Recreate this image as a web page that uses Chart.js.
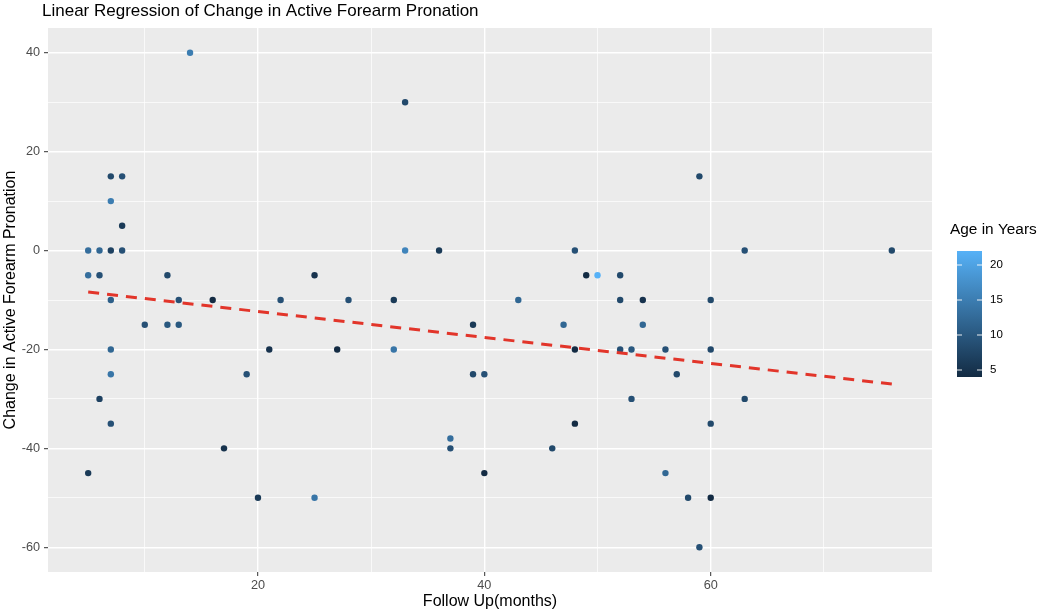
<!DOCTYPE html>
<html>
<head>
<meta charset="utf-8">
<script src="https://cdn.jsdelivr.net/npm/chart.js@4.4.1/dist/chart.umd.min.js"></script>
<style>
  html, body { margin: 0; padding: 0; background: #fff; }
  #wrap { width: 1040px; height: 613px; position: relative; }
</style>
</head>
<body>
<div id="wrap"><canvas id="regChart"></canvas></div>
<script>
// follow up (months), change in pronation (degrees), age (years)
const months = [14,7,8,7,8,5,6,7,8,5, 6,12,25,7,13,16,22,10,12,13, 7,21,27,7,19,6,7,17,5,20,
                25,33,33,36,48,49,50,52,28,32, 43,52,39,47,32,48,52,53,39,40, 53,37,37,46,48,40,59,63,76,54,
                60,54,56,60,57,63,60,56,58,60, 59];
const change = [40,15,15,10,5,0,0,0,0,-5, -5,-5,-5,-10,-10,-10,-10,-15,-15,-15, -20,-20,-20,-25,-25,-30,-35,-40,-45,-50,
                -50,30,0,0,0,-5,-5,-5,-10,-10, -10,-10,-15,-15,-20,-20,-20,-20,-25,-25, -30,-38,-40,-40,-35,-45,15,0,0,-10,
                -10,-15,-20,-20,-25,-30,-35,-45,-50,-50, -60];
const age = [15,8,9,15,6,13,12,7,9,13, 9,8,5,11,9,4,9,9,10,10, 12,5,4,14,9,7,9,5,6,6,
             14,8,16,6,9,4,22,8,9,6, 12,8,6,12,14,4,9,10,8,9, 9,13,9,8,4,4,8,9,8,5,
             8,12,9,8,8,8,8,12,8,4, 9];

// fitted line end points
const fitX = [5, 76];
const fitY = [-8.4, -27.0];

const xMajor = [20, 40, 60];
const xMinor = [10, 30, 50, 70];
const yMajor = [-60, -40, -20, 0, 20, 40];
const yMinor = [-50, -30, -10, 10, 30];
const ageTicks = [5, 10, 15, 20];

const ageMin = Math.min(...age);
const ageMax = Math.max(...age);
const lowCol = [19, 43, 67];    // #132B43
const highCol = [86, 177, 247]; // #56B1F7

function ageColor(a) {
    const t = (a - ageMin) / (ageMax - ageMin);
    const c = lowCol.map((v, i) => Math.round(v + (highCol[i] - v) * t));
    return "rgb(" + c.join(",") + ")";
}

const FONT = "'Liberation Sans', Arial, Helvetica, sans-serif";

// panel background, title and colour bar
const decor = {
    id: "decor",
    beforeDraw(chart) {
        const { ctx, chartArea: a } = chart;
        ctx.save();
        ctx.fillStyle = "#EBEBEB";
        ctx.fillRect(a.left, a.top, a.right - a.left, a.bottom - a.top);
        ctx.restore();
    },
    afterDraw(chart) {
        const ctx = chart.ctx;
        ctx.save();
        ctx.fillStyle = "#000";
        ctx.textBaseline = "middle";
        ctx.textAlign = "left";
        ctx.font = "17px " + FONT;
        ctx.fillText("Linear Regression of Change in Active Forearm Pronation", 42, 11.5);

        ctx.font = "15.4px " + FONT;
        ctx.fillText("Age in Years", 950, 230);

        const bx = 957, bw = 25, top = 251, bot = 377;
        const g = ctx.createLinearGradient(0, bot, 0, top);
        g.addColorStop(0, ageColor(ageMin));
        g.addColorStop(1, ageColor(ageMax));
        ctx.fillStyle = g;
        ctx.fillRect(bx, top, bw, bot - top);

        ctx.font = "11.5px " + FONT;
        ageTicks.forEach(v => {
            const y = bot - (v - ageMin) / (ageMax - ageMin) * (bot - top);
            ctx.strokeStyle = "rgba(255,255,255,0.9)";
            ctx.lineWidth = 1;
            ctx.beginPath();
            ctx.moveTo(bx, y); ctx.lineTo(bx + 5, y);
            ctx.moveTo(bx + bw - 5, y); ctx.lineTo(bx + bw, y);
            ctx.stroke();
            ctx.fillStyle = "#000";
            ctx.fillText(String(v), 990, y);
        });
        ctx.restore();
    }
};

const isMajor = (list, v) => list.includes(v);

new Chart(document.getElementById("regChart"), {
    data: {
        datasets: [{
            type: "scatter",
            data: months.map((m, i) => ({ x: m, y: change[i] })),
            backgroundColor: ctx => ageColor(age[ctx.dataIndex]),
            borderWidth: 0,
            pointRadius: 3.2,
            pointHoverRadius: 3.2,
            order: 2
        }, {
            type: "line",
            data: fitX.map((x, i) => ({ x: x, y: fitY[i] })),
            borderColor: "#E2352A",
            borderWidth: 3,
            borderDash: [11, 8],
            pointRadius: 0,
            fill: false,
            order: 1
        }]
    },
    options: {
        responsive: true,
        maintainAspectRatio: false,
        animation: false,
        layout: { padding: { left: 0, right: 108, top: 28, bottom: 0 } },
        plugins: {
            legend: { display: false },
            tooltip: { enabled: false },
            title: { display: false }
        },
        scales: {
            x: {
                type: "linear",
                min: 1.45,
                max: 79.55,
                afterBuildTicks: s => { s.ticks = xMinor.concat(xMajor).sort((a, b) => a - b).map(v => ({ value: v })); },
                afterFit: s => { s.height = 41; },
                border: { display: false },
                grid: {
                    color: "#fff",
                    lineWidth: c => isMajor(xMajor, c.tick.value) ? 1.4 : 0.7,
                    tickColor: c => isMajor(xMajor, c.tick.value) ? "#333" : "rgba(0,0,0,0)",
                    tickLength: 4,
                    tickWidth: 1
                },
                ticks: {
                    color: "#4D4D4D",
                    font: { family: FONT, size: 12.7 },
                    padding: 2,
                    maxRotation: 0,
                    autoSkip: false,
                    callback: v => isMajor(xMajor, v) ? String(v) : ""
                },
                title: {
                    display: true,
                    text: "Follow Up(months)",
                    color: "#000",
                    font: { family: FONT, size: 16 },
                    padding: { top: 0, bottom: 2 }
                }
            },
            y: {
                type: "linear",
                min: -65,
                max: 45,
                afterBuildTicks: s => { s.ticks = yMinor.concat(yMajor).sort((a, b) => a - b).map(v => ({ value: v })); },
                afterFit: s => { s.width = 48; },
                border: { display: false },
                grid: {
                    color: "#fff",
                    lineWidth: c => isMajor(yMajor, c.tick.value) ? 1.4 : 0.7,
                    tickColor: c => isMajor(yMajor, c.tick.value) ? "#333" : "rgba(0,0,0,0)",
                    tickLength: 4,
                    tickWidth: 1
                },
                ticks: {
                    color: "#4D4D4D",
                    font: { family: FONT, size: 12.7 },
                    padding: 4,
                    autoSkip: false,
                    callback: v => isMajor(yMajor, v) ? String(v) : ""
                },
                title: {
                    display: true,
                    text: "Change in Active Forearm Pronation",
                    color: "#000",
                    font: { family: FONT, size: 16 },
                    padding: { top: 1, bottom: 0 }
                }
            }
        }
    },
    plugins: [decor]
});
</script>
</body>
</html>
